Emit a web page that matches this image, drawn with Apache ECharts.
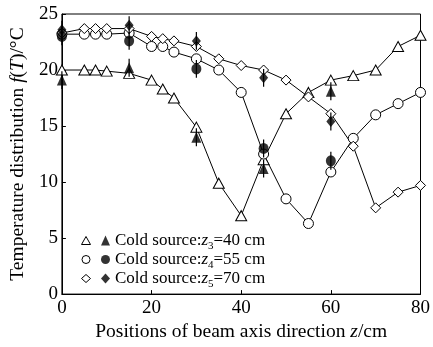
<!DOCTYPE html>
<html>
<head>
<meta charset="utf-8">
<script src="https://cdn.jsdelivr.net/npm/echarts@6/dist/echarts.min.js"></script>
<style>
  html, body { margin: 0; padding: 0; background: #fff; }
  #chart { width: 433px; height: 347px; }
</style>
</head>
<body>
<div id="chart"></div>
<script>
// Positions along the beam axis (cm)
const positions = [0, 5, 7.5, 10, 15, 20, 22.5, 25, 30, 35, 40, 45, 50, 55, 60, 65, 70, 75, 80];

// Simulated temperature (°C) for each cold-source position
const simZ3 = [20.0, 20.0, 20.0, 19.9, 19.7, 19.1, 18.3, 17.5, 14.9, 9.9, 7.0, 12.0, 16.1, 18.0, 19.1, 19.5, 20.0, 22.1, 23.1];
const simZ4 = [23.2, 23.2, 23.2, 23.2, 23.3, 22.1, 22.1, 21.6, 21.0, 20.0, 18.0, 12.5, 8.5, 6.3, 10.9, 13.9, 16.0, 17.0, 18.0];
const simZ5 = [23.3, 23.7, 23.7, 23.7, 23.7, 23.0, 22.8, 22.6, 22.1, 21.0, 20.4, 20.0, 19.1, 17.6, 16.1, 13.2, 7.7, 9.1, 9.7];

// Measured temperature with error half-widths
const measPositions = [0, 15, 30, 45, 60];
const measZ3 = [19.1, 20.2, 14.0, 11.2, 18.1];
const measZ4 = [23.0, 22.6, 20.1, 13.0, 11.9];
const measZ5 = [23.6, 24.0, 22.6, 19.3, 15.4];
const measErr = [0.8, 0.8, 0.8, 0.8, 0.8];

const xTicks = [0, 20, 40, 60, 80];
const yTicks = [0, 5, 10, 15, 20, 25];

const legendLabels = [
  'Cold source:{i|z}{s|3}=40 cm',
  'Cold source:{i|z}{s|4}=55 cm',
  'Cold source:{i|z}{s|5}=70 cm'
];

const FONT = 'Liberation Serif';
const pair = (xs, ys) => xs.map((x, i) => [x, ys[i]]);
const triple = (xs, ys, es) => xs.map((x, i) => [x, ys[i], es[i]]);

function simSeries(name, data, symbol, size) {
  return {
    name, type: 'line', data, symbol, symbolSize: size, z: 3,
    lineStyle: { color: '#000', width: 1 },
    itemStyle: { color: '#fff', borderColor: '#000', borderWidth: 1 }
  };
}
function measSeries(name, data, symbol, size) {
  return {
    name, type: 'scatter', data, symbol, symbolSize: size, z: 5,
    itemStyle: { color: '#000', borderColor: '#000', borderWidth: 0 }
  };
}
function errSeries(data) {
  return {
    type: 'custom', data, z: 4,
    renderItem(params, api) {
      const x = api.value(0), y = api.value(1), e = api.value(2);
      const a = api.coord([x, y - e]), b = api.coord([x, y + e]);
      return { type: 'line', shape: { x1: a[0], y1: a[1], x2: b[0], y2: b[1] },
               style: { stroke: '#000', lineWidth: 1.2 } };
    }
  };
}

function rich(size, subLine) {
  return {
    i: { fontFamily: FONT, fontSize: size, fontStyle: 'italic', color: '#000', lineHeight: size + 2 },
    s: { fontFamily: FONT, fontSize: Math.round(size * 0.62), color: '#000', lineHeight: subLine, verticalAlign: 'bottom' }
  };
}

const chart = echarts.init(document.getElementById('chart'), null, { renderer: 'canvas' });
chart.setOption({
  backgroundColor: '#fff',
  animation: false,
  grid: { left: 60, right: 6, top: 14, bottom: 46, show: true, borderColor: '#000', borderWidth: 1, backgroundColor: 'transparent' },
  xAxis: {
    type: 'value', min: 0, max: 80, interval: 20,
    name: 'Positions of beam axis direction {i|z}/cm',
    nameLocation: 'middle', nameGap: 24,
    nameTextStyle: { fontFamily: FONT, fontSize: 19.5, color: '#000', rich: rich(19.5, 20) },
    axisLine: { lineStyle: { color: '#000', width: 1 } },
    axisTick: { inside: true, length: 4, lineStyle: { color: '#000' } },
    axisLabel: { fontFamily: FONT, fontSize: 19, color: '#000', margin: 4,
                 formatter: v => xTicks.includes(v) ? String(v) : '' },
    splitLine: { show: false }
  },
  yAxis: {
    type: 'value', min: 0, max: 25, interval: 5,
    name: 'Temperature distribution {i|f}({i|T})/°C',
    nameLocation: 'middle', nameGap: 31, nameRotate: 90,
    nameTextStyle: { fontFamily: FONT, fontSize: 19.5, color: '#000', rich: rich(19.5, 20) },
    axisLine: { show: true, lineStyle: { color: '#000', width: 1 } },
    axisTick: { show: true, inside: true, length: 4, lineStyle: { color: '#000' } },
    axisLabel: { fontFamily: FONT, fontSize: 19, color: '#000', margin: 4,
                 formatter: v => yTicks.includes(v) ? String(v) : '' },
    splitLine: { show: false }
  },
  legend: [
    {
      orient: 'vertical', left: 76, top: 224, itemGap: -4, itemWidth: 9, itemHeight: 8,
      selectedMode: false, itemTextGap: 0,
      data: [
        { name: 'simZ3', icon: 'triangle' },
        { name: 'simZ4', icon: 'circle' },
        { name: 'simZ5', icon: 'diamond' }
      ],
      formatter: () => ' ',
      textStyle: { fontFamily: FONT, fontSize: 17, lineHeight: 23, color: '#000' },
      itemStyle: { color: '#fff', borderColor: '#000', borderWidth: 1 }
    },
    {
      orient: 'vertical', left: 96, top: 224, itemGap: -4, itemWidth: 9, itemHeight: 10,
      selectedMode: false, itemTextGap: 8,
      data: [
        { name: 'measZ3', icon: 'triangle' },
        { name: 'measZ4', icon: 'circle' },
        { name: 'measZ5', icon: 'diamond' }
      ],
      formatter: name => legendLabels[['measZ3', 'measZ4', 'measZ5'].indexOf(name)],
      textStyle: { fontFamily: FONT, fontSize: 17, lineHeight: 19, color: '#000', rich: rich(17, 23) },
      itemStyle: { color: '#000', borderWidth: 0 }
    }
  ],
  series: [
    simSeries('simZ3', pair(positions, simZ3), 'triangle', [11, 10]),
    simSeries('simZ4', pair(positions, simZ4), 'circle', 10),
    simSeries('simZ5', pair(positions, simZ5), 'diamond', [10, 10]),
    errSeries(triple(measPositions, measZ3, measErr)),
    errSeries(triple(measPositions, measZ4, measErr)),
    errSeries(triple(measPositions, measZ5, measErr)),
    measSeries('measZ3', pair(measPositions, measZ3), 'triangle', [10, 11]),
    measSeries('measZ4', pair(measPositions, measZ4), 'circle', [10, 11]),
    measSeries('measZ5', pair(measPositions, measZ5), 'diamond', [9, 11])
  ]
});
</script>
</body>
</html>
